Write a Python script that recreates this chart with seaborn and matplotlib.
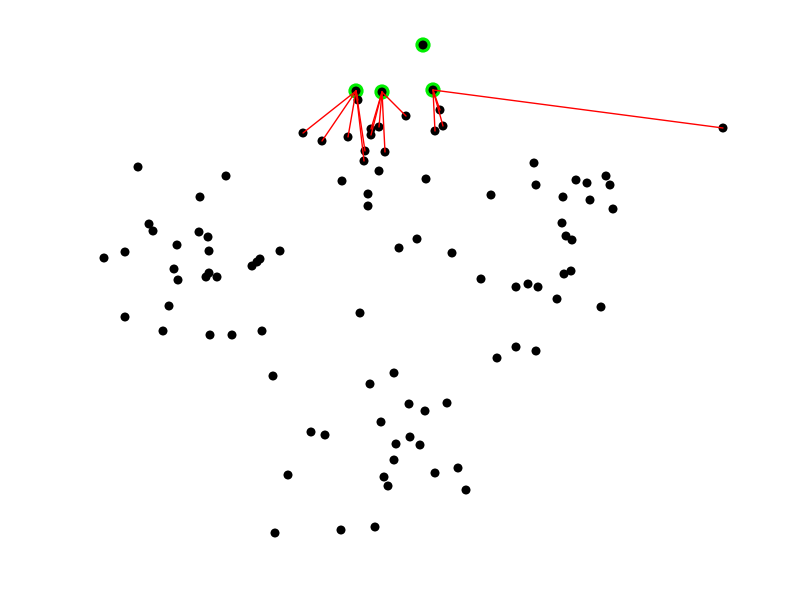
import numpy as np
import pandas as pd
import seaborn as sns
import matplotlib
matplotlib.use("Agg")
import matplotlib.pyplot as plt

sns.set_style("white")

# all points (picture coordinates, y grows downward)
pts_x = [423, 356, 382, 433,
         358, 303, 322, 348, 365, 364, 371, 371, 379, 385, 406, 379, 440, 443, 435, 342, 426, 723,
         138, 226, 200, 149, 153, 199, 208, 177, 209, 125, 104, 280, 260, 257, 252, 174, 178, 209,
         206, 217, 169, 125, 163, 210, 232, 262,
         534, 491, 536, 576, 587, 606, 610, 563, 590, 613, 562, 566, 572, 571, 564, 481, 516, 528,
         538, 557, 601,
         452, 399, 417, 368, 368, 360, 497, 516, 536,
         273, 394, 370, 409, 425, 447, 381, 311, 325, 410, 396, 420, 394, 288, 384, 388, 435, 458,
         466, 275, 341, 375]
pts_y = [45, 91, 92, 90,
         100, 133, 141, 137, 151, 161, 129, 135, 127, 152, 116, 171, 110, 126, 131, 181, 179, 128,
         167, 176, 197, 224, 231, 232, 237, 245, 251, 252, 258, 251, 259, 262, 266, 269, 280, 273,
         277, 277, 306, 317, 331, 335, 335, 331,
         163, 195, 185, 180, 183, 176, 185, 197, 200, 209, 223, 236, 240, 271, 274, 279, 287, 284,
         287, 299, 307,
         253, 248, 239, 194, 206, 313, 358, 347, 351,
         376, 373, 384, 404, 411, 403, 422, 432, 435, 437, 444, 445, 460, 475, 477, 486, 473, 468,
         490, 533, 530, 527]

# selected centres (first four points)
centre_x = [423, 356, 382, 433]
centre_y = [45, 91, 92, 90]

# links: centre index -> member point
link_centre = [1, 1, 1, 1, 1, 1,
               2, 2, 2, 2, 2,
               3, 3, 3, 3]
link_x = [358, 303, 322, 348, 365, 364,
          371, 371, 379, 385, 406,
          440, 443, 435, 723]
link_y = [100, 133, 141, 137, 151, 161,
          129, 135, 127, 152, 116,
          110, 126, 131, 128]

pts = pd.DataFrame({"x": pts_x, "y": pts_y})
centres = pd.DataFrame({"x": centre_x, "y": centre_y})

fig = plt.figure(figsize=(8, 6), dpi=100)
ax = fig.add_axes([0, 0, 1, 1])

sns.scatterplot(data=centres, x="x", y="y", s=120, color="#00ee00",
                edgecolor="none", ax=ax, zorder=1)
sns.scatterplot(data=pts, x="x", y="y", s=42, color="black",
                edgecolor="none", ax=ax, zorder=2)
for c, lx, ly in zip(link_centre, link_x, link_y):
    ax.plot([centre_x[c], lx], [centre_y[c], ly], color="red", lw=1, zorder=3)

ax.set_xlim(0, 800)
ax.set_ylim(600, 0)
ax.axis("off")
fig.savefig("out.png", dpi=100)
